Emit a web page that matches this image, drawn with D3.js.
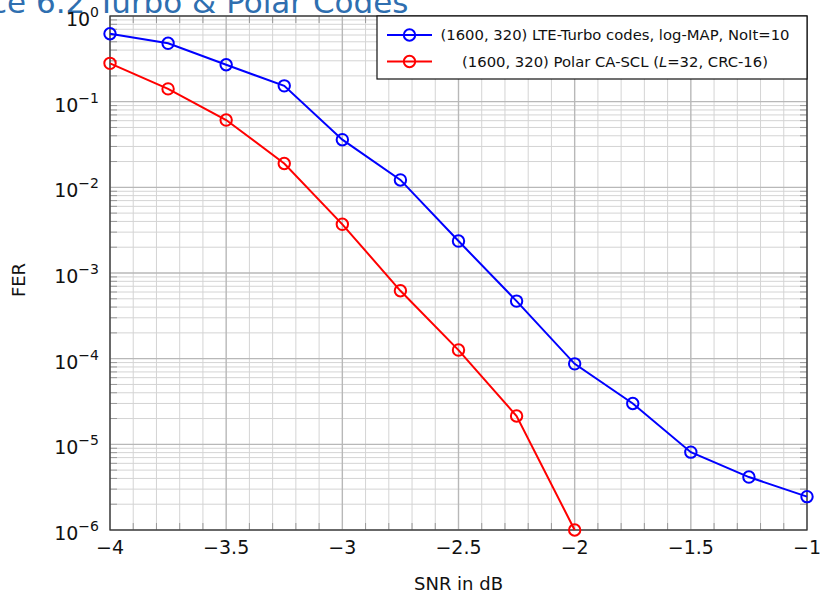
<!DOCTYPE html>
<html>
<head>
<meta charset="utf-8">
<script src="https://cdn.jsdelivr.net/npm/d3@7"></script>
<style>
  body { margin: 0; background: #fff; }
  svg { display: block; font-family: "DejaVu Sans", sans-serif; }
</style>
</head>
<body>
<div id="chart"></div>
<script>
const snr = [-4, -3.75, -3.5, -3.25, -3, -2.75, -2.5, -2.25, -2, -1.75, -1.5, -1.25, -1];
const turboFer = [0.62, 0.48, 0.27, 0.153, 0.036, 0.0122, 0.00236, 4.7e-4, 8.7e-5, 3.0e-5, 8.1e-6, 4.15e-6, 2.45e-6];
const polarFer = [0.28, 0.141, 0.061, 0.019, 0.0037, 6.2e-4, 1.26e-4, 2.14e-5, 1.0e-6];
const xTicks = [-4, -3.5, -3, -2.5, -2, -1.5, -1];
const xTickLabels = ['\u22124', '\u22123.5', '\u22123', '\u22122.5', '\u22122', '\u22121.5', '\u22121'];
const yExponents = [0, -1, -2, -3, -4, -5, -6];
const seriesNames = [
  '(1600, 320) LTE-Turbo codes, log-MAP, NoIt=10',
  '(1600, 320) Polar CA-SCL (L=32, CRC-16)'
];
const seriesColors = ['#0000ff', '#ff0000'];

const width = 822, height = 597;
const margin = {top: 16, right: 15, bottom: 67, left: 110};
const innerW = width - margin.left - margin.right;
const innerH = height - margin.top - margin.bottom;

const svg = d3.select('#chart').append('svg')
  .attr('width', width)
  .attr('height', height);

// title, cut off at the top like the reference
const title = svg.append('text')
  .attr('y', 13)
  .attr('fill', '#2f6fb0')
  .style('font-size', '31px');
title.append('tspan').attr('x', -10).text('ce 6.2');
title.append('tspan').attr('x', 97).text('Turbo & Polar Codes');

const g = svg.append('g')
  .attr('transform', `translate(${margin.left}, ${margin.top})`);

const x = d3.scaleLinear().domain([-4, -1]).range([0, innerW]);
const y = d3.scaleLog().domain([1e-6, 1]).range([innerH, 0]);

// grid
const minorX = d3.range(-40, -9).map(v => v / 10).filter(v => !xTicks.includes(v));
const minorY = [];
yExponents.slice(0, -1).forEach(e => {
  for (let k = 2; k <= 9; k++) minorY.push(k * Math.pow(10, e - 1));
});

g.append('rect')
  .attr('width', innerW).attr('height', innerH)
  .attr('fill', '#fff');
g.append('g').selectAll('line').data(minorX).join('line')
  .attr('x1', d => x(d)).attr('x2', d => x(d))
  .attr('y1', 0).attr('y2', innerH)
  .attr('stroke', '#d4d4d4').attr('stroke-width', 1);
g.append('g').selectAll('line').data(minorY).join('line')
  .attr('x1', 0).attr('x2', innerW)
  .attr('y1', d => y(d)).attr('y2', d => y(d))
  .attr('stroke', '#d4d4d4').attr('stroke-width', 1);
g.append('g').selectAll('line').data(xTicks).join('line')
  .attr('x1', d => x(d)).attr('x2', d => x(d))
  .attr('y1', 0).attr('y2', innerH)
  .attr('stroke', '#b8b8b8').attr('stroke-width', 1.4);
g.append('g').selectAll('line').data(yExponents).join('line')
  .attr('x1', 0).attr('x2', innerW)
  .attr('y1', d => y(Math.pow(10, d))).attr('y2', d => y(Math.pow(10, d)))
  .attr('stroke', '#b8b8b8').attr('stroke-width', 1.4);

// inward tick marks on frame
const tickCol = '#999';
g.append('g').selectAll('line').data(minorY).join('line')
  .attr('x1', 0).attr('x2', 7).attr('y1', d => y(d)).attr('y2', d => y(d))
  .attr('stroke', tickCol);
g.append('g').selectAll('line').data(minorY).join('line')
  .attr('x1', innerW - 7).attr('x2', innerW).attr('y1', d => y(d)).attr('y2', d => y(d))
  .attr('stroke', tickCol);
g.append('g').selectAll('line').data(minorX).join('line')
  .attr('x1', d => x(d)).attr('x2', d => x(d)).attr('y1', innerH - 7).attr('y2', innerH)
  .attr('stroke', tickCol);
g.append('g').selectAll('line').data(minorX).join('line')
  .attr('x1', d => x(d)).attr('x2', d => x(d)).attr('y1', 0).attr('y2', 7)
  .attr('stroke', tickCol);

// frame
g.append('rect')
  .attr('width', innerW).attr('height', innerH)
  .attr('fill', 'none').attr('stroke', '#333').attr('stroke-width', 1.3);

// x tick labels
g.append('g').selectAll('text').data(xTicks).join('text')
  .attr('x', d => x(d))
  .attr('y', innerH + 24)
  .attr('text-anchor', 'middle')
  .style('font-size', '19px')
  .attr('fill', '#111')
  .text((d, i) => xTickLabels[i]);

// y tick labels 10^e
const yl = g.append('g').selectAll('text').data(yExponents).join('text')
  .attr('x', -11)
  .attr('y', d => y(Math.pow(10, d)) + 10)
  .attr('text-anchor', 'end')
  .attr('fill', '#111')
  .style('font-size', '19px');
yl.append('tspan').text('10');
yl.append('tspan')
  .attr('dy', -9)
  .style('font-size', '14px')
  .text(d => d === 0 ? '0' : '\u2212' + Math.abs(d));

// axis labels
svg.append('text')
  .attr('x', margin.left + x(-2.5))
  .attr('y', 590)
  .attr('text-anchor', 'middle')
  .style('font-size', '18px')
  .attr('fill', '#111')
  .text('SNR in dB');
svg.append('text')
  .attr('transform', `translate(25, 280) rotate(-90)`)
  .attr('text-anchor', 'middle')
  .style('font-size', '18px')
  .attr('fill', '#111')
  .text('FER');

// series
const series = [
  snr.map((s, i) => ({s, v: turboFer[i]})),
  snr.slice(0, polarFer.length).map((s, i) => ({s, v: polarFer[i]}))
];
const line = d3.line().x(d => x(d.s)).y(d => y(d.v));

series.forEach((data, k) => {
  g.append('path')
    .datum(data)
    .attr('d', line)
    .attr('fill', 'none')
    .attr('stroke', seriesColors[k])
    .attr('stroke-width', 2);
  g.append('g').selectAll('circle').data(data).join('circle')
    .attr('cx', d => x(d.s))
    .attr('cy', d => y(d.v))
    .attr('r', 5.7)
    .attr('fill', 'none')
    .attr('stroke', seriesColors[k])
    .attr('stroke-width', 2);
});

// legend
const legX = 267;
const leg = g.append('g').attr('transform', `translate(${legX}, 0)`);
leg.append('rect')
  .attr('width', innerW - legX).attr('height', 63)
  .attr('fill', '#fff').attr('stroke', '#111').attr('stroke-width', 1.2);
seriesNames.forEach((name, k) => {
  const ly = 19 + k * 26.5;
  leg.append('line')
    .attr('x1', 10).attr('x2', 55).attr('y1', ly).attr('y2', ly)
    .attr('stroke', seriesColors[k]).attr('stroke-width', 2);
  leg.append('circle')
    .attr('cx', 32.5).attr('cy', ly).attr('r', 5.7)
    .attr('fill', 'none').attr('stroke', seriesColors[k]).attr('stroke-width', 2);
  const t = leg.append('text')
    .attr('x', 238)
    .attr('y', ly + 5)
    .attr('text-anchor', 'middle')
    .style('font-size', '14.8px')
    .attr('fill', '#111');
  if (k === 1) {
    t.append('tspan').text('(1600, 320) Polar CA-SCL (');
    t.append('tspan').style('font-style', 'italic').text('L');
    t.append('tspan').text('=32, CRC-16)');
  } else {
    t.text(name);
  }
});
</script>
</body>
</html>
